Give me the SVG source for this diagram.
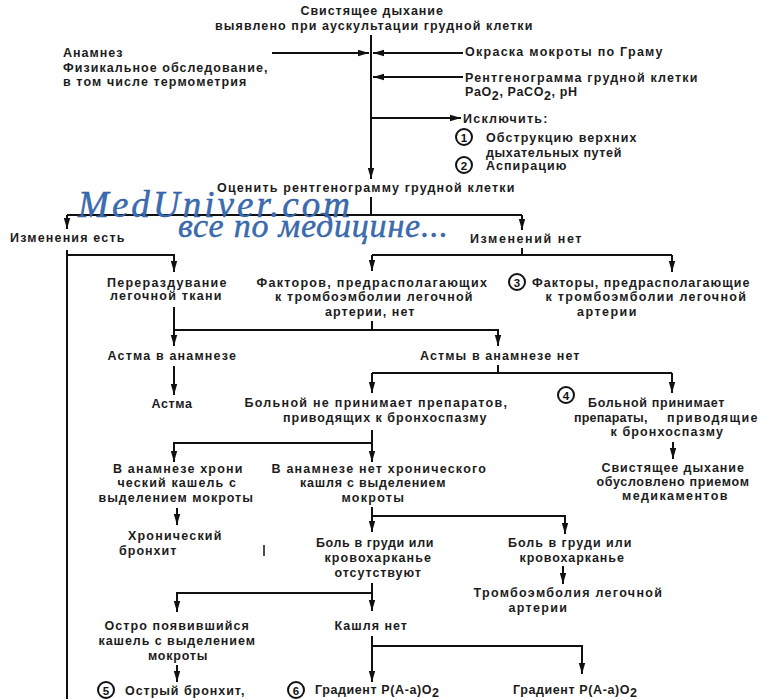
<svg xmlns="http://www.w3.org/2000/svg" width="773" height="699" viewBox="0 0 773 699">
<defs>
<marker id="ah" markerUnits="userSpaceOnUse" markerWidth="12" markerHeight="8" refX="11" refY="4" orient="auto">
<path d="M0,0.8 L11,4 L0,7.2 z" fill="#111"/>
</marker>
<style>
.t{font-family:"Liberation Sans",Arial,sans-serif;font-size:12.5px;font-weight:bold;fill:#1c1c1c;letter-spacing:0.6px}
.m{text-anchor:middle}
.c line,.c path{stroke:#111;stroke-width:2;fill:none}
.a{marker-end:url(#ah)}
.num circle{fill:#fff;stroke:#111;stroke-width:2}
.num text{font-family:"Liberation Sans",Arial,sans-serif;font-size:11.5px;font-weight:bold;text-anchor:middle;fill:#111}
.wm{font-family:"Liberation Serif","Times New Roman",serif;font-style:italic;fill:#3a6db5;stroke:#2a5594;stroke-width:0.4}
</style>
</defs>
<rect width="773" height="699" fill="#fff"/>

<g id="connectors" class="c">
<path class="a" d="M272,53 H369"/>
<path class="a" d="M463,53 H373"/>
<path class="a" d="M463,77 H373"/>
<path class="a" d="M371,35 V179"/>
<path class="a" d="M371,118 H461"/>
<path d="M371,197 V215 M67,215 H522"/>
<path class="a" d="M67,215 V229"/>
<path class="a" d="M522,215 V230"/>
<path d="M67,250 V699"/>
<path class="a" d="M67,255 H174 V272"/>
<path d="M522,248 V255 M372,255 H672"/>
<path class="a" d="M372,255 V271"/>
<path class="a" d="M672,255 V272"/>
<path class="a" d="M174,307 V346"/>
<path d="M372,321 V330"/>
<path class="a" d="M174,330 H498 V346"/>
<path class="a" d="M174,366 V395"/>
<path d="M498,365 V373 M372,373 H672"/>
<path class="a" d="M372,373 V393"/>
<path class="a" d="M672,373 V393"/>
<path class="a" d="M673,442 V459"/>
<path class="a" d="M372,430 V462"/>
<path class="a" d="M372,443 H174 V462"/>
<path class="a" d="M177,508 V525"/>
<path class="a" d="M372,507 V532"/>
<path class="a" d="M372,516 H565 V534"/>
<path class="a" d="M563,566 V584"/>
<path class="a" d="M372,583 V611"/>
<path class="a" d="M372,593 H177 V612"/>
<path class="a" d="M177,665 V682"/>
<path class="a" d="M372,636 V682"/>
<path class="a" d="M372,646 H582 V674"/>
<path d="M264,545 V556" style="stroke-width:1.5"/>
</g>

<g id="n-start">
<text class="t m" x="372" y="15" textLength="143">Свистящее дыхание</text>
<text class="t m" x="374" y="30" textLength="318">выявлено при аускультации грудной клетки</text>
</g>
<g id="n-anamnez">
<text class="t" x="63" y="57" textLength="60">Анамнез</text>
<text class="t" x="63" y="72" textLength="205">Физикальное обследование,</text>
<text class="t" x="63" y="86" textLength="184">в том числе термометрия</text>
</g>
<g id="n-gram">
<text class="t" x="465" y="56" textLength="198">Окраска мокроты по Граму</text>
</g>
<g id="n-xray">
<text class="t" x="465" y="82" textLength="233">Рентгенограмма грудной клетки</text>
<text class="t" x="465" y="96">PaO<tspan dy="4">2</tspan><tspan dy="-4">, PaCO</tspan><tspan dy="4">2</tspan><tspan dy="-4">, pH</tspan></text>
</g>
<g id="n-exclude">
<text class="t" x="463" y="123" textLength="85">Исключить:</text>
<g class="num"><circle cx="464" cy="137" r="8"/><text x="464" y="141.5">1</text></g>
<text class="t" x="486" y="142" textLength="151">Обструкцию верхних</text>
<text class="t" x="486" y="157" textLength="136">дыхательных путей</text>
<g class="num"><circle cx="464" cy="165" r="8"/><text x="464" y="169.5">2</text></g>
<text class="t" x="486" y="170" textLength="81">Аспирацию</text>
</g>
<g id="n-evaluate">
<text class="t" x="217" y="192" textLength="298">Оценить рентгенограмму грудной клетки</text>
</g>
<g id="watermark">
<text class="wm" x="78" y="217" font-size="37" textLength="272">MedUniver.com</text>
<text class="wm" x="178" y="237" font-size="34" textLength="270">все по медицине...</text>
</g>
<g id="n-changes-yes">
<text class="t" x="10" y="242" textLength="115">Изменения есть</text>
</g>
<g id="n-changes-no">
<text class="t" x="470" y="243" textLength="112">Изменений нет</text>
</g>
<g id="n-hyperinflation">
<text class="t m" x="167" y="287" textLength="120">Перераздувание</text>
<text class="t m" x="166" y="300" textLength="112">легочной ткани</text>
</g>
<g id="n-no-factors">
<text class="t m" x="372" y="287" textLength="231">Факторов, предрасполагающих</text>
<text class="t m" x="374" y="301" textLength="198">к тромбоэмболии легочной</text>
<text class="t m" x="370" y="316" textLength="90">артерии, нет</text>
</g>
<g id="n-factors">
<g class="num"><circle cx="517" cy="282" r="8"/><text x="517" y="286.5">3</text></g>
<text class="t" x="532" y="287" textLength="218">Факторы, предрасполагающие</text>
<text class="t m" x="646" y="301" textLength="201">к тромбоэмболии легочной</text>
<text class="t m" x="607" y="316" textLength="60">артерии</text>
</g>
<g id="n-asthma-hx">
<text class="t m" x="172" y="360" textLength="129">Астма в анамнезе</text>
</g>
<g id="n-asthma">
<text class="t m" x="172" y="408" textLength="41">Астма</text>
</g>
<g id="n-no-asthma-hx">
<text class="t m" x="500" y="360" textLength="160">Астмы в анамнезе нет</text>
</g>
<g id="n-no-drugs">
<text class="t m" x="376" y="407" textLength="263">Больной не принимает препаратов,</text>
<text class="t m" x="385" y="422" textLength="204">приводящих к бронхоспазму</text>
</g>
<g id="n-drugs">
<g class="num"><circle cx="566" cy="395" r="8"/><text x="566" y="399.5">4</text></g>
<text class="t" x="588" y="407" textLength="137">Больной принимает</text>
<text class="t" x="574" y="422" textLength="74">препараты,</text>
<text class="t" x="667" y="422" textLength="91">приводящие</text>
<text class="t m" x="667" y="436" textLength="113">к бронхоспазму</text>
</g>
<g id="n-drug-wheeze">
<text class="t m" x="673" y="472" textLength="143">Свистящее дыхание</text>
<text class="t m" x="673" y="486" textLength="153">обусловлено приемом</text>
<text class="t m" x="675" y="500" textLength="106">медикаментов</text>
</g>
<g id="n-chronic-cough">
<text class="t m" x="178" y="473" textLength="130">В анамнезе хрони</text>
<text class="t m" x="177" y="487" textLength="119">ческий кашель с</text>
<text class="t m" x="176" y="502" textLength="155">выделением мокроты</text>
</g>
<g id="n-no-chronic-cough">
<text class="t m" x="379" y="473" textLength="215">В анамнезе нет хронического</text>
<text class="t m" x="373" y="487" textLength="146">кашля с выделением</text>
<text class="t m" x="373" y="502" textLength="63">мокроты</text>
</g>
<g id="n-chronic-bronchitis">
<text class="t" x="128" y="540" textLength="94">Хронический</text>
<text class="t" x="119" y="555" textLength="58">бронхит</text>
</g>
<g id="n-no-pain">
<text class="t m" x="375" y="547" textLength="118">Боль в груди или</text>
<text class="t m" x="378" y="562" textLength="107">кровохарканье</text>
<text class="t m" x="378" y="577" textLength="87">отсутствуют</text>
</g>
<g id="n-pain">
<text class="t m" x="570" y="547" textLength="124">Боль в груди или</text>
<text class="t m" x="572" y="562" textLength="105">кровохарканье</text>
</g>
<g id="n-pe">
<text class="t m" x="568" y="597" textLength="189">Тромбоэмболия легочной</text>
<text class="t m" x="538" y="612" textLength="59">артерии</text>
</g>
<g id="n-acute-cough">
<text class="t m" x="177" y="630" textLength="145">Остро появившийся</text>
<text class="t m" x="177" y="645" textLength="157">кашель с выделением</text>
<text class="t m" x="178" y="660" textLength="60">мокроты</text>
</g>
<g id="n-no-cough">
<text class="t m" x="371" y="630" textLength="73">Кашля нет</text>
</g>
<g id="n-acute-bronchitis">
<g class="num"><circle cx="106" cy="690" r="8"/><text x="106" y="694.5">5</text></g>
<text class="t" x="125" y="695" textLength="120">Острый бронхит,</text>
</g>
<g id="n-gradient-1">
<g class="num"><circle cx="296" cy="690" r="8"/><text x="296" y="694.5">6</text></g>
<text class="t" x="315" y="694">Градиент P(A-a)O<tspan dy="3">2</tspan></text>
</g>
<g id="n-gradient-2">
<text class="t" x="513" y="694">Градиент P(A-a)O<tspan dy="3">2</tspan></text>
</g>
</svg>
